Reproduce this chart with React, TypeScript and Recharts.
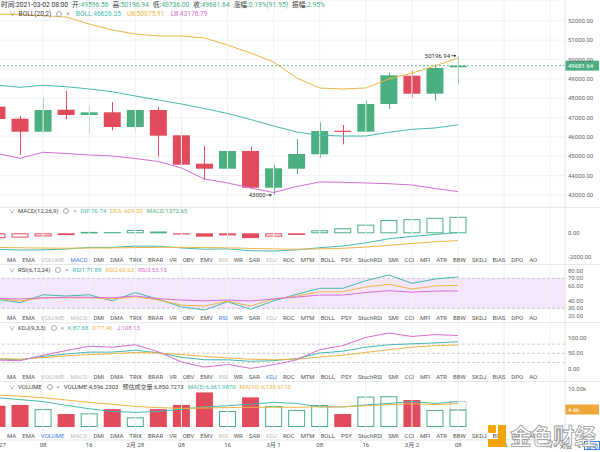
import React from 'react';
import {
  ComposedChart, Bar, Line, XAxis, YAxis, ReferenceLine, ReferenceDot, ReferenceArea, CartesianGrid,
} from 'recharts';

// BTC 4h candles, 2021-02-27 00:00 .. 2021-03-02 08:00
const open = [47561, 46941, 46270, 47406, 47132, 47271, 46512, 47390, 46084, 44617, 44358, 45273, 43377, 44358, 45102, 46320, 46270, 47700, 49162, 48233, 49596.56];
const high = [47650, 47080, 48046, 48372, 47633, 47804, 47426, 47530, 46616, 45531, 45495, 45495, 44550, 45893, 46755, 46616, 47907, 49286, 49457, 49730, 50196.94];
const low = [46800, 45066, 46187, 46910, 46187, 46342, 46270, 44978, 44462, 43775, 44300, 43300, 43000, 44085, 44927, 45617, 46250, 47442, 48010, 47870, 48736];
const close = [46926, 46270, 47390, 47132, 47271, 46512, 47390, 46064, 44565, 44358, 45273, 43377, 44379, 45118, 46306, 46290, 47700, 49183, 48233, 49560, 49681.64];

const bollMid = [48682, 48563, 48666, 48594, 48475, 48336, 48113, 47907, 47700, 47468, 47210, 46900, 46564, 46254, 46084, 46047, 46047, 46238, 46393, 46461, 46626.35];
const bollUp = [52349, 52320, 52260, 52194, 51832, 51522, 51315, 51212, 51212, 51109, 50747, 50334, 49869, 49043, 48527, 48475, 48527, 48991, 49301, 49663, 50075.91];
const bollLow = [45143, 44896, 45206, 45143, 45066, 45014, 44885, 44730, 44395, 43826, 43620, 43362, 43129, 43439, 43671, 43656, 43620, 43584, 43517, 43336, 43176.79];

const dif = [-1330, -1400, -1380, -1315, -1170, -1170, -1070, -1080, -1220, -1330, -1300, -1450, -1480, -1380, -1200, -1060, -800, -450, -260, -100, 76.74];
const dea = [-1180, -1210, -1230, -1240, -1230, -1220, -1190, -1170, -1170, -1190, -1210, -1260, -1300, -1320, -1300, -1250, -1150, -1000, -850, -700, -609.59];
const macdHist = [-400, -360, -260, -150, 120, 100, 280, 150, -100, -280, -180, -400, -280, -100, 250, 420, 720, 1110, 1180, 1290, 1372.65];

const rsi6 = [42, 37.5, 48, 46.4, 48, 40, 51, 42, 32, 27.7, 38.8, 28.7, 40, 48.7, 56.7, 56.7, 66.8, 74.4, 63.3, 69, 71.88];
const rsi12 = [43.3, 39.7, 44, 44, 44, 42.4, 45.5, 41, 34.4, 33, 39.6, 33, 42.4, 46.4, 52, 52, 58.4, 62, 55.7, 59.7, 60.63];
const rsi24 = [43.3, 42.4, 44, 44.7, 44.7, 44, 46.4, 42.8, 41, 40, 41, 39.7, 42.4, 45, 47.7, 47.7, 51, 53.5, 51.5, 53, 53.15];

const kdjK = [32, 29, 40, 48, 54, 54, 60, 52, 37, 29, 29, 24, 26, 33, 51, 57, 70, 78, 81, 84, 87.68];
const kdjD = [33, 31, 36, 42, 46, 49, 53, 51, 46, 40, 35, 31, 29, 31, 38, 44, 53, 62, 70, 75, 77.46];
const kdjJ = [28, 26, 44, 59, 73, 70, 78, 55, 22, 5, 14, 1, 13, 29, 62, 75, 102, 116, 105, 111, 108.13];

const volume = [5600, 5800, 4700, 3400, 3600, 4700, 2550, 4700, 5800, 9100, 4200, 7800, 5500, 4500, 5800, 3400, 8000, 8100, 7100, 4500, 4596.2303];
const volMa5 = [7700, 7200, 6700, 5700, 4800, 4100, 3850, 4100, 4700, 5300, 5600, 6000, 6500, 6200, 5300, 5300, 5800, 6200, 6700, 6200, 6661.987];
const volMa10 = [8400, 8100, 7700, 7100, 6500, 6000, 5400, 5100, 4900, 5000, 5100, 5200, 5200, 5200, 5300, 5300, 5600, 5900, 6100, 5900, 6138.611];
const estVolume = 6850.7273;

const timeTicks = [0, 2, 4, 6, 8, 10, 12, 14, 16, 18, 20, 22, 24];
const timeLabels = ['2月 27', '08', '16', '2月 28', '08', '16', '3月 1', '08', '16', '3月 2', '08', '16', '3月 3'];
const priceTicks = [43000, 44000, 45000, 46000, 47000, 48000, 49000, 50000, 51000, 52000];

const tabs = ['MA', 'EMA', 'VOLUME', 'MACD', 'DMI', 'DMA', 'TRIX', 'BRAR', 'VR', 'OBV', 'EMV', 'RSI', 'WR', 'SAR', 'KDJ', 'ROC', 'MTM', 'BOLL', 'PSY', 'StochRSI', 'SMI', 'CCI', 'MFI', 'ATR', 'BBW', 'SKDJ', 'BIAS', 'DPO', 'AO'];
const shownTabs = ['VOLUME', 'MACD', 'RSI', 'KDJ'];

const GREEN = '#4caf80';
const RED = '#e14b5b';
const TEAL = '#45b9ad';
const GOLD = '#efb547';
const PINK = '#d66fd2';
const GRID = '#f0f2f5';
const AXIS = '#e2e4e8';
const BLUE = '#3d7ee8';
const FONT = 'Roboto, "Noto Sans CJK SC", sans-serif';
const FS = 6;

const X_DOMAIN: [number, number] = [0.13, 24.64];
const gridXs = timeTicks.filter((t) => t > 0);
const last = open.length - 1;

const rows = open.map((o, i) => ({
  i,
  open: o, high: high[i], low: low[i], close: close[i],
  mid: bollMid[i], ub: bollUp[i], lb: bollLow[i],
  dif: dif[i], dea: dea[i], macd: macdHist[i],
  rsi1: rsi6[i], rsi2: rsi12[i], rsi3: rsi24[i],
  k: kdjK[i], d: kdjD[i], j: kdjJ[i],
  vol: volume[i], ma5: volMa5[i], ma10: volMa10[i],
  est: i === last ? estVolume - volume[i] : null,
}));

const maxIdx = high.indexOf(Math.max(...high));
const minIdx = low.indexOf(Math.min(...low));

const f2 = (v: number) => v.toFixed(2);
const axisTick = { fontSize: FS, fill: '#666' };

function Candle(props: any) {
  const { x, y, width, height, payload } = props;
  if (!payload || height == null) return null;
  const top = Math.min(y, y + height);
  const h = Math.abs(height);
  const k = payload.high === payload.low ? 0 : h / (payload.high - payload.low);
  const yo = top + (payload.high - payload.open) * k;
  const yc = top + (payload.high - payload.close) * k;
  const col = payload.close >= payload.open ? GREEN : RED;
  const cx = Math.round(x + width / 2) + 0.5;
  return (
    <g>
      <line x1={cx} x2={cx} y1={top} y2={top + h} stroke={col} strokeWidth={1} />
      <rect x={x} y={Math.min(yo, yc)} width={width} height={Math.max(1.2, Math.abs(yc - yo))} fill={col} />
    </g>
  );
}

function MacdBar(props: any) {
  const { x, y, width, height, payload } = props;
  if (!payload) return null;
  const i = payload.i;
  const v = macdHist[i];
  const prev = i > 0 ? macdHist[i - 1] : -Infinity;
  const col = v >= 0 ? GREEN : RED;
  const top = Math.min(y, y + height);
  const h = Math.abs(height);
  if (v > prev) {
    return <rect x={x + 0.5} y={top + 0.5} width={width - 1} height={Math.max(0.6, h - 1)} fill="#fff" stroke={col} strokeWidth={1} />;
  }
  return <rect x={x} y={top} width={width} height={Math.max(1, h)} fill={col} />;
}

function VolBar(props: any) {
  const { x, y, width, height, payload } = props;
  if (!payload) return null;
  const top = Math.min(y, y + height);
  const h = Math.abs(height);
  if (payload.close >= payload.open) {
    return <rect x={x + 0.5} y={top + 0.5} width={width - 1} height={h - 1} fill="#fff" stroke={GREEN} strokeWidth={1} />;
  }
  return <rect x={x} y={top} width={width} height={h} fill={RED} />;
}

function EstBar(props: any) {
  const { x, y, width, height } = props;
  if (height == null || !width) return null;
  const top = Math.min(y, y + height);
  const h = Math.abs(height);
  return <rect x={x + 0.5} y={top + 0.5} width={width - 1} height={h} fill="none" stroke="#888" strokeWidth={0.8} strokeDasharray="1 1" />;
}

function Tag(props: any) {
  const { viewBox, text, color } = props;
  if (!viewBox) return null;
  const x0 = viewBox.x + viewBox.width;
  const yc = viewBox.y;
  return (
    <g>
      <rect x={x0} y={yc - 5} width={34} height={10} fill={color} />
      <text x={x0 + 3} y={yc + 2.2} fontSize={FS} fill="#fff" fontFamily={FONT}>{text}</text>
    </g>
  );
}

function ExtremeMark(props: any) {
  const { cx, cy, text } = props;
  if (cx == null || cy == null) return null;
  return (
    <g>
      <text x={cx - 8} y={cy + 2.2} fontSize={FS} fill="#333" textAnchor="end" fontFamily={FONT}>{text}</text>
      <line x1={cx - 7} x2={cx - 2} y1={cy} y2={cy} stroke="#333" strokeWidth={0.7} />
      <path d={`M${cx - 2},${cy} l-2,-1.5 l0,3 z`} fill="#333" />
    </g>
  );
}

function Legend({ y, title, items, fs = FS, gap = 4 }: { y: number; title: string; items: { t: string; c: string }[]; fs?: number; gap?: number }) {
  return (
    <div style={{ position: 'absolute', left: 9, top: y - 5, height: 10, display: 'flex', alignItems: 'center', fontSize: fs, lineHeight: '10px', whiteSpace: 'nowrap', color: '#444' }}>
      <span style={{ color: '#888', marginRight: 3 }}>∨</span>
      <span>{title}</span>
      <span style={{ display: 'inline-block', width: 4, height: 4, border: '1px solid #aaa', borderRadius: '50%', margin: '0 4px 0 5px' }} />
      <span style={{ color: '#999', marginRight: gap }}>×</span>
      {items.map((it) => (
        <span key={it.t} style={{ color: it.c, marginRight: gap }}>{it.t}</span>
      ))}
    </div>
  );
}

function TabRow({ y, active }: { y: number; active: string }) {
  return (
    <div style={{ position: 'absolute', left: 7, top: y - 5, height: 10, display: 'flex', gap: 6, fontSize: FS, lineHeight: '10px', whiteSpace: 'nowrap' }}>
      {tabs.map((t) => (
        <span key={t} style={{ color: t === active ? BLUE : shownTabs.includes(t) ? '#bbb' : '#555' }}>{t}</span>
      ))}
    </div>
  );
}

function Sep({ y }: { y: number }) {
  return <div style={{ position: 'absolute', left: 0, top: y, width: 600, height: 1, background: '#e6e8eb' }} />;
}

const noMargin = { top: 0, right: 0, bottom: 0, left: 0 };

function HiddenX() {
  return <XAxis type="number" dataKey="i" domain={X_DOMAIN} allowDataOverflow hide />;
}

function vGrid() {
  return gridXs.map((x) => <ReferenceLine key={`g${x}`} x={x} stroke={GRID} strokeWidth={1} />);
}

function rightAxis(domain: [number, number], ticks: number[], fmt: (v: number) => string) {
  return (
    <YAxis orientation="right" width={35} type="number" domain={domain} allowDataOverflow ticks={ticks} interval={0}
      tickFormatter={fmt} tick={axisTick} tickLine={false} tickSize={0} tickMargin={3} axisLine={{ stroke: AXIS }} />
  );
}

export default function App() {
  const header = [
    { t: '时间:2021-03-02 08:00', c: '#333' },
    { t: '开:', c: '#333' }, { t: open[last].toFixed(2), c: GREEN },
    { t: '高:', c: '#333' }, { t: high[last].toFixed(2), c: GREEN },
    { t: '低:', c: '#333' }, { t: low[last].toFixed(2), c: GREEN },
    { t: '收:', c: '#333' }, { t: close[last].toFixed(2), c: GREEN },
    { t: '涨幅:', c: '#333' }, { t: '0.19%(91.95)', c: GREEN },
    { t: '振幅:', c: '#333' }, { t: '2.95%', c: GREEN },
  ];
  return (
    <div style={{ position: 'absolute', left: 0, top: 0, width: 600, height: 452, overflow: 'hidden', background: '#fff', fontFamily: FONT }}>
      {/* main price panel */}
      <div style={{ position: 'absolute', left: 0, top: 0 }}>
        <ComposedChart width={600} height={207} data={rows} margin={noMargin} style={{ fontFamily: FONT }}>
          <CartesianGrid vertical={false} stroke={GRID} />
          {HiddenX()}
          {rightAxis([42380, 53072], priceTicks, f2)}
          {vGrid()}
          <Line type="linear" dataKey="ub" stroke={GOLD} strokeWidth={1} dot={false} isAnimationActive={false} />
          <Line type="linear" dataKey="mid" stroke={TEAL} strokeWidth={1} dot={false} isAnimationActive={false} />
          <Line type="linear" dataKey="lb" stroke={PINK} strokeWidth={1} dot={false} isAnimationActive={false} />
          <Bar dataKey={(d: any) => [d.low, d.high]} barSize={17} shape={<Candle />} isAnimationActive={false} />
          <ReferenceLine y={close[last]} stroke={GREEN} strokeDasharray="2 2" strokeWidth={0.8}
            label={<Tag text={close[last].toFixed(2)} color={GREEN} />} />
          <ReferenceDot x={maxIdx} y={high[maxIdx]} r={0} shape={(p: any) => <ExtremeMark {...p} text={String(high[maxIdx])} />} />
          <ReferenceDot x={minIdx} y={low[minIdx]} r={0} shape={(p: any) => <ExtremeMark {...p} text={String(low[minIdx])} />} />
        </ComposedChart>
      </div>

      {/* MACD */}
      <div style={{ position: 'absolute', left: 0, top: 207 }}>
        <ComposedChart width={600} height={57} data={rows} margin={noMargin} style={{ fontFamily: FONT }}>
          {HiddenX()}
          {rightAxis([-2558, 2192], [0, -2000], f2)}
          {vGrid()}
          <Bar dataKey="macd" barSize={17} shape={<MacdBar />} isAnimationActive={false} />
          <Line type="linear" dataKey="dif" stroke={TEAL} strokeWidth={1} dot={false} isAnimationActive={false} />
          <Line type="linear" dataKey="dea" stroke={GOLD} strokeWidth={1} dot={false} isAnimationActive={false} />
        </ComposedChart>
      </div>

      {/* RSI */}
      <div style={{ position: 'absolute', left: 0, top: 264 }}>
        <ComposedChart width={600} height={58} data={rows} margin={noMargin} style={{ fontFamily: FONT }}>
          {HiddenX()}
          {rightAxis([11.73, 89.07], [20, 30, 40, 60, 70, 80], f2)}
          <ReferenceArea y1={30} y2={70} fill="#f4e6fb" fillOpacity={1} stroke="none" />
          {vGrid()}
          <ReferenceLine y={70} stroke="#c9c9c9" strokeDasharray="3 2" />
          <ReferenceLine y={30} stroke="#c9c9c9" strokeDasharray="3 2" />
          <Line type="linear" dataKey="rsi1" stroke={TEAL} strokeWidth={1} dot={false} isAnimationActive={false} />
          <Line type="linear" dataKey="rsi2" stroke={GOLD} strokeWidth={1} dot={false} isAnimationActive={false} />
          <Line type="linear" dataKey="rsi3" stroke={PINK} strokeWidth={1} dot={false} isAnimationActive={false} />
        </ComposedChart>
      </div>

      {/* KDJ */}
      <div style={{ position: 'absolute', left: 0, top: 322 }}>
        <ComposedChart width={600} height={59} data={rows} margin={noMargin} style={{ fontFamily: FONT }}>
          {HiddenX()}
          {rightAxis([-40.07, 152.1], [0, 50, 100], f2)}
          {vGrid()}
          <ReferenceLine y={80} stroke="#cfcfcf" strokeDasharray="3 2" />
          <ReferenceLine y={50} stroke="#cfcfcf" strokeDasharray="3 2" />
          <ReferenceLine y={20} stroke="#cfcfcf" strokeDasharray="3 2" />
          <Line type="linear" dataKey="k" stroke={TEAL} strokeWidth={1} dot={false} isAnimationActive={false} />
          <Line type="linear" dataKey="d" stroke={GOLD} strokeWidth={1} dot={false} isAnimationActive={false} />
          <Line type="linear" dataKey="j" stroke={PINK} strokeWidth={1} dot={false} isAnimationActive={false} />
        </ComposedChart>
      </div>

      {/* VOLUME + time axis */}
      <div style={{ position: 'absolute', left: 0, top: 381 }}>
        <ComposedChart width={600} height={71} data={rows} margin={noMargin} style={{ fontFamily: FONT }}>
          <XAxis type="number" dataKey="i" domain={X_DOMAIN} allowDataOverflow ticks={timeTicks} interval={0}
            tickFormatter={(t: number) => timeLabels[t / 2]} height={12} tick={{ fontSize: FS, fill: '#555' }}
            tickLine={false} tickSize={0} tickMargin={3} axisLine={{ stroke: AXIS }} />
          {rightAxis([-3421, 12105], [10000], (v: number) => `${(v / 1000).toFixed(2)}k`)}
          {vGrid()}
          <Bar dataKey="vol" stackId="v" barSize={17} shape={<VolBar />} isAnimationActive={false} />
          <Bar dataKey="est" stackId="v" barSize={17} shape={<EstBar />} isAnimationActive={false} />
          <Line type="linear" dataKey="ma5" stroke={TEAL} strokeWidth={1} dot={false} isAnimationActive={false} />
          <Line type="linear" dataKey="ma10" stroke={GOLD} strokeWidth={1} dot={false} isAnimationActive={false} />
          <ReferenceLine y={volume[last]} stroke="none"
            label={<Tag text={`${(volume[last] / 1000).toFixed(1)}k`} color="#f0a73a" />} />
        </ComposedChart>
      </div>

      <Sep y={207} />
      <Sep y={264} />
      <Sep y={322} />
      <Sep y={381} />

      {/* header */}
      <div style={{ position: 'absolute', left: 1, top: 0, height: 10, display: 'flex', fontSize: 6.7, lineHeight: '10px', whiteSpace: 'nowrap' }}>
        {header.map((h, n) => (
          <span key={n} style={{ color: h.c, marginRight: h.t.endsWith(':') ? 0 : 4 }}>{h.t}</span>
        ))}
      </div>

      <Legend y={14} fs={6.6} gap={6} title="BOLL(20,2)" items={[
        { t: `BOLL:${bollMid[last].toFixed(2)}`, c: TEAL },
        { t: `UB:${bollUp[last].toFixed(2)}`, c: GOLD },
        { t: `LB:${bollLow[last].toFixed(2)}`, c: PINK },
      ]} />
      <Legend y={211} title="MACD(12,26,9)" items={[
        { t: `DIF:${dif[last].toFixed(2)}`, c: TEAL },
        { t: `DEA:${dea[last].toFixed(2)}`, c: GOLD },
        { t: `MACD:${macdHist[last].toFixed(2)}`, c: GREEN },
      ]} />
      <Legend y={270} title="RSI(6,12,24)" items={[
        { t: `RSI1:${rsi6[last].toFixed(2)}`, c: TEAL },
        { t: `RSI2:${rsi12[last].toFixed(2)}`, c: GOLD },
        { t: `RSI3:${rsi24[last].toFixed(2)}`, c: PINK },
      ]} />
      <Legend y={327.5} title="KDJ(9,3,3)" items={[
        { t: `K:${kdjK[last].toFixed(2)}`, c: TEAL },
        { t: `D:${kdjD[last].toFixed(2)}`, c: GOLD },
        { t: `J:${kdjJ[last].toFixed(2)}`, c: PINK },
      ]} />
      <Legend y={387} title="VOLUME" items={[
        { t: `VOLUME:${volume[last].toLocaleString('en-US', { minimumFractionDigits: 4 })}`, c: '#444' },
        { t: `预估成交量:${estVolume.toLocaleString('en-US', { minimumFractionDigits: 4 })}`, c: '#444' },
        { t: `MA(5):${volMa5[last].toLocaleString('en-US', { minimumFractionDigits: 4 })}`, c: TEAL },
        { t: `MA(10):${volMa10[last].toLocaleString('en-US', { minimumFractionDigits: 4 })}`, c: GOLD },
      ]} />

      <TabRow y={259.5} active="MACD" />
      <TabRow y={317.5} active="RSI" />
      <TabRow y={376.5} active="KDJ" />
      <TabRow y={435.5} active="VOLUME" />

      {/* bottom-right controls */}
      <div style={{ position: 'absolute', left: 560, top: 441, fontSize: FS, lineHeight: '10px', color: '#555', whiteSpace: 'nowrap' }}>
        对数 <span style={{ marginLeft: 3 }}>%</span>
        <span style={{ marginLeft: 3, color: BLUE, border: `1px solid ${BLUE}`, padding: '0 1px' }}>自动</span>
      </div>

      {/* watermark */}
      <svg style={{ position: 'absolute', left: 486, top: 423 }} width={24} height={26}>
        <rect x={2} y={2} width={8} height={8} rx={1.5} fill="#f5a50a" />
        <path d="M12,2 h8 v22 h-18 v-8 h10 z" fill="#f5a50a" />
      </svg>
      <div style={{ position: 'absolute', left: 510, top: 422, fontSize: 21.5, lineHeight: '26px', color: 'rgba(255,255,255,0.85)', WebkitTextStroke: '0.8px #9a9a9a', fontFamily: '"Noto Sans CJK SC", sans-serif', fontWeight: 700, whiteSpace: 'nowrap' }}>
        金色财经
      </div>
    </div>
  );
}
